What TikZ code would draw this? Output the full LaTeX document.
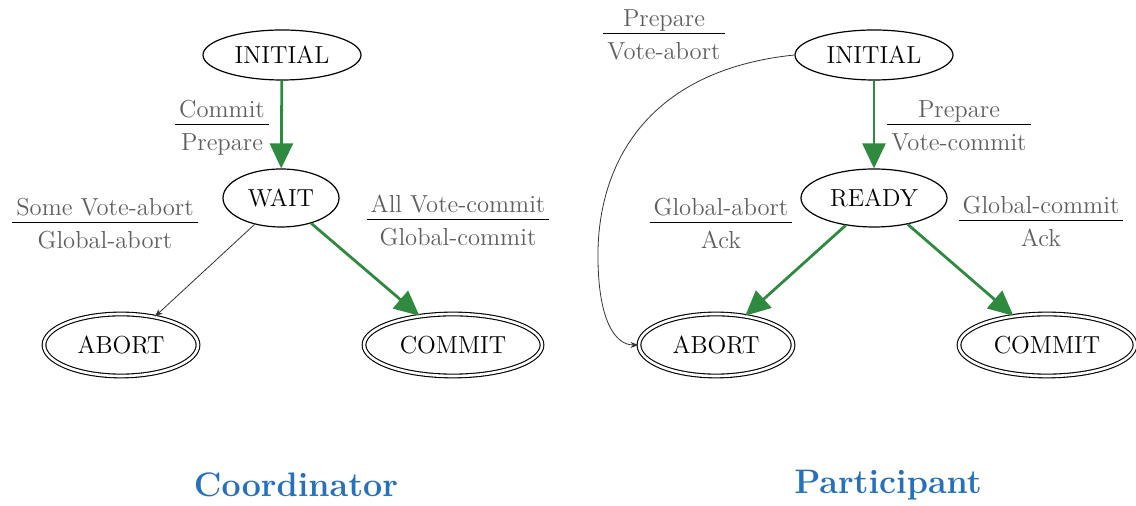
\documentclass[tikz,border=0pt]{standalone}
\usetikzlibrary{arrows.meta,shapes.geometric}
\definecolor{arrgreen}{RGB}{46,138,62}
\definecolor{labgray}{RGB}{95,95,95}
\definecolor{titleblue}{RGB}{38,112,188}
\newcommand{\frlab}[2]{\begin{tabular}{@{\,}c@{\,}}\textcolor{labgray}{#1}\\[-1pt]\hline\rule{0pt}{13pt}\textcolor{labgray}{#2}\end{tabular}}
\tikzset{
  st/.style={draw, ellipse, line width=0.6pt, inner sep=0pt, font=\fontsize{12.3}{15}\selectfont},
  fin/.style={st, double, double distance=1.3pt, line width=0.55pt},
  lab/.style={inner sep=0pt, font=\fontsize{12.3}{15}\selectfont},
  garr/.style={draw=arrgreen, line width=1.4pt, -{Triangle[length=12.5pt,width=11.5pt,fill=arrgreen]}},
  barr/.style={draw=black!80, line width=0.4pt, -{Stealth[length=4pt,width=3pt]}},
  ttl/.style={text=titleblue, font=\fontsize{17}{20}\selectfont\bfseries},
}
\begin{document}
\begin{tikzpicture}[x=0.5pt,y=-0.5pt]
\useasboundingbox (0,0) rectangle (1136,506);
% Coordinator
\node[st, minimum width=79pt, minimum height=25pt] (ci) at (282,55) {INITIAL};
\node[st, minimum width=58pt, minimum height=29pt] (cw) at (281,198) {WAIT};
\node[fin, minimum width=77pt, minimum height=31pt] (ca) at (121,345) {ABORT};
\node[fin, minimum width=89pt, minimum height=31pt] (cc) at (453,345) {COMMIT};
\draw[garr] (ci) -- (cw);
\draw[barr] (cw.225) -- (ca.40);
\draw[garr] (cw.-40) -- (cc.139);
\node[lab] (l1) at (222,128) {\frlab{Commit}{Prepare}};
\node[lab] (l2) at (105,226) {\frlab{Some Vote-abort}{Global-abort}};
\node[lab] (l3) at (458,223) {\frlab{All Vote-commit}{Global-commit}};
\node[ttl] (t1) at (296,485) {Coordinator};
% Participant
\node[st, minimum width=79pt, minimum height=25pt] (pi) at (874,55) {INITIAL};
\node[st, minimum width=73pt, minimum height=29pt] (pr) at (874,198) {READY};
\node[fin, minimum width=77pt, minimum height=31pt] (pa) at (716,345) {ABORT};
\node[fin, minimum width=88pt, minimum height=31pt] (pc) at (1047,345) {COMMIT};
\draw[garr] (pi) -- (pr);
\draw[garr] (pr.224) -- (pa.45);
\draw[garr] (pr.-38) -- (pc.139);
\draw[barr] (pi.west) .. controls (650,70) and (600,160) .. (598,250) .. controls (597,320) and (615,345) .. (pa.west);
\node[lab] (l4) at (664,37) {\frlab{Prepare}{Vote-abort}};
\node[lab] (l5) at (959,128) {\frlab{Prepare}{Vote-commit}};
\node[lab] (l6) at (721,226) {\frlab{Global-abort}{Ack}};
\node[lab] (l7) at (1041,224) {\frlab{Global-commit}{Ack}};
\node[ttl] (t2) at (888,485) {Participant};
\end{tikzpicture}
\end{document}
